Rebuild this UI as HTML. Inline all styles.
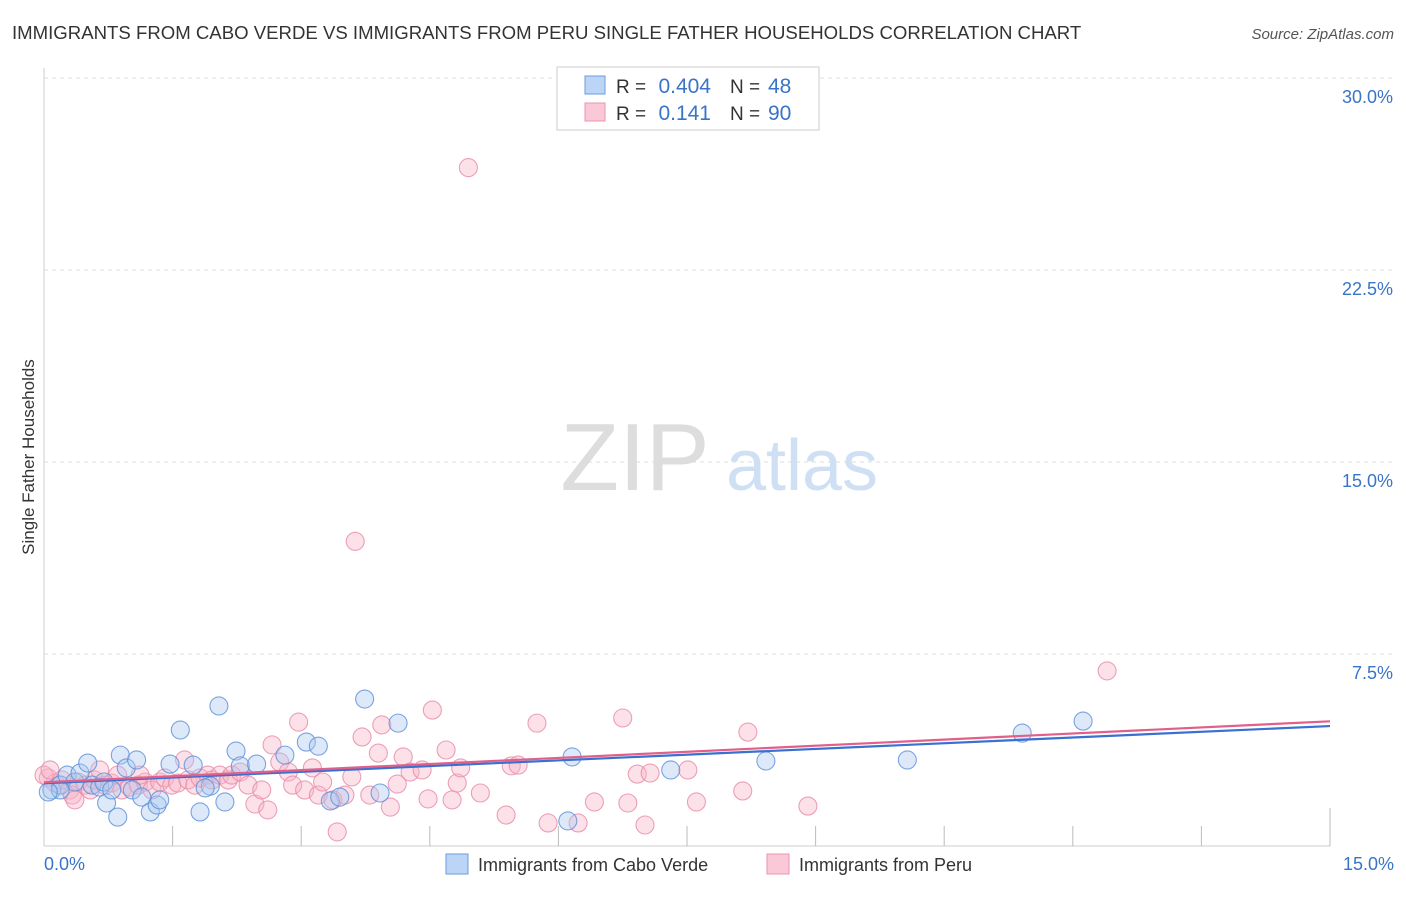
<!DOCTYPE html>
<html><head><meta charset="utf-8"><style>
body{margin:0;background:#fff;font-family:"Liberation Sans",sans-serif}
svg text{font-family:"Liberation Sans",sans-serif}
</style></head><body>
<svg id="chart" width="1406" height="892">
<text x="12" y="39" font-size="18.6" fill="#333">IMMIGRANTS FROM CABO VERDE VS IMMIGRANTS FROM PERU SINGLE FATHER HOUSEHOLDS CORRELATION CHART</text>
<text x="1394" y="39" font-size="15" fill="#555" font-style="italic" text-anchor="end">Source: ZipAtlas.com</text>
<g><text x="635" y="490" font-size="96" font-family="Liberation Serif" fill="#ddd" text-anchor="middle">ZIP</text><text x="802" y="490" font-size="72" fill="#cfe0f5" text-anchor="middle">atlas</text></g>
<text transform="translate(34,457) rotate(-90)" font-size="17" fill="#333" text-anchor="middle">Single Father Households</text>
<g id="grid"></g><g id="marks"></g><g id="lines"></g>
<g>
<rect x="557" y="67" width="262" height="63" fill="#fff" stroke="#ccc"/>
<rect x="585" y="76" width="20" height="18" fill="#bcd4f5" stroke="#6c9be0"/>
<rect x="585" y="103" width="20" height="18" fill="#fbc8d7" stroke="#eb93b0"/>
<text x="616" y="93" font-size="19" fill="#333">R =</text>
<text x="711" y="93" font-size="21" fill="#3a74c8" text-anchor="end">0.404</text>
<text x="730" y="93" font-size="19" fill="#333">N =</text>
<text x="768" y="93" font-size="21" fill="#3a74c8">48</text>
<text x="616" y="120" font-size="19" fill="#333">R =</text>
<text x="711" y="120" font-size="21" fill="#3a74c8" text-anchor="end">0.141</text>
<text x="730" y="120" font-size="19" fill="#333">N =</text>
<text x="768" y="120" font-size="21" fill="#3a74c8">90</text>
</g>
<g>
<rect x="446" y="854" width="22" height="20" fill="#bcd4f5" stroke="#6c9be0"/>
<text x="478" y="871" font-size="18" fill="#333">Immigrants from Cabo Verde</text>
<rect x="767" y="854" width="22" height="20" fill="#fbc8d7" stroke="#eb93b0"/>
<text x="799" y="871" font-size="18" fill="#333">Immigrants from Peru</text>
</g>
</svg>
<script>
const yTicks=[7.5,15,22.5,30];
const yTickLabels=["7.5%","15.0%","22.5%","30.0%"];
const xTickLabels=["0.0%","15.0%"];
const blueX=[0.09,0.19,0.27,0.36,0.42,0.51,0.56,0.65,0.70,0.73,0.79,0.86,0.89,0.96,1.03,1.08,1.14,1.24,1.32,1.35,1.47,1.59,1.74,1.82,1.94,2.04,2.11,2.24,2.29,2.48,2.81,3.06,3.2,3.34,3.45,3.74,3.92,4.13,6.11,6.16,7.31,8.42,10.07,11.41,12.12,0.19,0.05,1.88];
const blueY=[2.19,2.38,2.77,2.5,2.85,3.24,2.38,2.3,2.5,1.68,2.19,1.13,3.55,3.05,2.19,3.36,1.91,1.33,1.6,1.8,3.2,4.53,3.16,1.33,2.34,5.47,1.72,3.71,3.13,3.2,3.55,4.06,3.9,1.76,1.91,5.74,2.07,4.8,0.98,3.48,2.97,3.32,3.36,4.41,4.88,2.19,2.11,2.27];
const pinkX=[0.05,0.13,0.21,0.30,0.33,0.40,0.48,0.54,0.59,0.71,0.79,0.86,0.91,1.0,1.1,1.18,1.26,1.35,1.41,1.49,1.56,1.64,1.68,1.76,1.82,1.91,1.96,2.05,2.15,2.19,2.29,2.38,2.46,2.54,2.61,2.66,2.75,2.85,2.9,2.97,3.04,3.13,3.2,3.25,3.37,3.42,3.51,3.59,3.71,3.8,3.9,3.94,4.04,4.12,4.19,4.27,4.41,4.48,4.53,4.69,4.76,4.82,4.86,5.09,5.39,5.45,5.53,5.75,5.88,6.23,6.42,6.75,6.81,6.92,7.01,7.07,7.51,7.61,8.15,8.21,8.91,0.0,0.07,0.65,1.12,0.36,4.95,3.63,12.4];
const pinkY=[2.66,2.46,2.58,2.19,1.99,2.5,2.38,2.19,2.58,2.38,2.46,2.77,2.19,2.3,2.38,2.5,2.19,2.5,2.66,2.38,2.46,3.36,2.58,2.38,2.66,2.77,2.58,2.77,2.58,2.77,2.89,2.38,1.64,2.19,1.41,3.95,3.28,2.89,2.38,4.84,2.19,3.05,1.99,2.5,1.8,0.55,1.99,2.7,4.26,1.99,3.63,4.73,1.52,2.42,3.48,2.89,2.97,1.84,5.31,3.75,1.8,2.46,3.05,2.07,1.21,3.13,3.16,4.8,0.9,0.9,1.72,5.0,1.68,2.81,0.82,2.85,2.97,1.72,2.15,4.45,1.56,2.77,2.97,2.97,2.77,1.8,26.5,11.9,6.84];
const X0=44,X1=1330,Y0=846,Y30=78;
const sx=v=>X0+(v/15)*(X1-X0), sy=v=>Y0-(v/30)*(Y0-Y30);
const NS="http://www.w3.org/2000/svg";
function mk(t,a,p){const e=document.createElementNS(NS,t);for(const k in a)e.setAttribute(k,a[k]);p.appendChild(e);return e;}
const grid=document.getElementById('grid');
mk('line',{x1:X0,y1:68,x2:X0,y2:Y0,stroke:'#ccc'},grid);
mk('line',{x1:X0,y1:Y0,x2:X1,y2:Y0,stroke:'#ccc'},grid);
yTicks.forEach((t,i)=>{const l=mk('line',{x1:X0,y1:sy(t),x2:1394,y2:sy(t),stroke:'#ddd','stroke-dasharray':'4,4'},grid);


const tx=mk('text',{x:1393,y:sy(t)+25,'font-size':18,fill:'#3a74c8','text-anchor':'end'},grid);tx.textContent=yTickLabels[i];

});
for(let i=1;i<=10;i++){const x=sx(i*1.5);const l=mk('line',{x1:x,y1:Y0,x2:x,y2:i==10?Y0-38:Y0-20,stroke:'#bbb'},grid);

}
[[X0,'start',0],[1394,'end',1]].forEach(([x,a,i])=>{const t=mk('text',{x:x,y:870,'font-size':18,fill:'#3a74c8','text-anchor':a},grid);t.textContent=xTickLabels[i];

});
const marks=document.getElementById('marks');
function pts(X,Y,fill,stroke,name){X.forEach((x,i)=>{const c=mk('circle',{cx:sx(x),cy:sy(Y[i]),r:9,fill:fill,'fill-opacity':0.4,stroke:stroke,'stroke-opacity':0.8,'stroke-width':1.1},marks);

});}
pts(pinkX,pinkY,'#f7b3c8','#e88aa8','peru-point');
pts(blueX,blueY,'#a9c8f0','#5b8fd8','cabo-verde-point');
function reg(X,Y){const n=X.length;let mx=0,my=0;X.forEach((x,i)=>{mx+=x;my+=Y[i]});mx/=n;my/=n;let a=0,b=0;X.forEach((x,i)=>{a+=(x-mx)*(Y[i]-my);b+=(x-mx)**2});const s=a/b;return [my-s*mx,s];}
const lines=document.getElementById('lines');
[[blueX,blueY,'#3a70d0','trend-cabo-verde'],[pinkX,pinkY,'#e0608a','trend-peru']].forEach(([X,Y,c,n])=>{const [b,s]=reg(X,Y);
const l=mk('line',{x1:sx(0),y1:sy(b),x2:sx(15),y2:sy(b+s*15),stroke:c,'stroke-width':2.2},lines);

});
</script>
</body></html>
